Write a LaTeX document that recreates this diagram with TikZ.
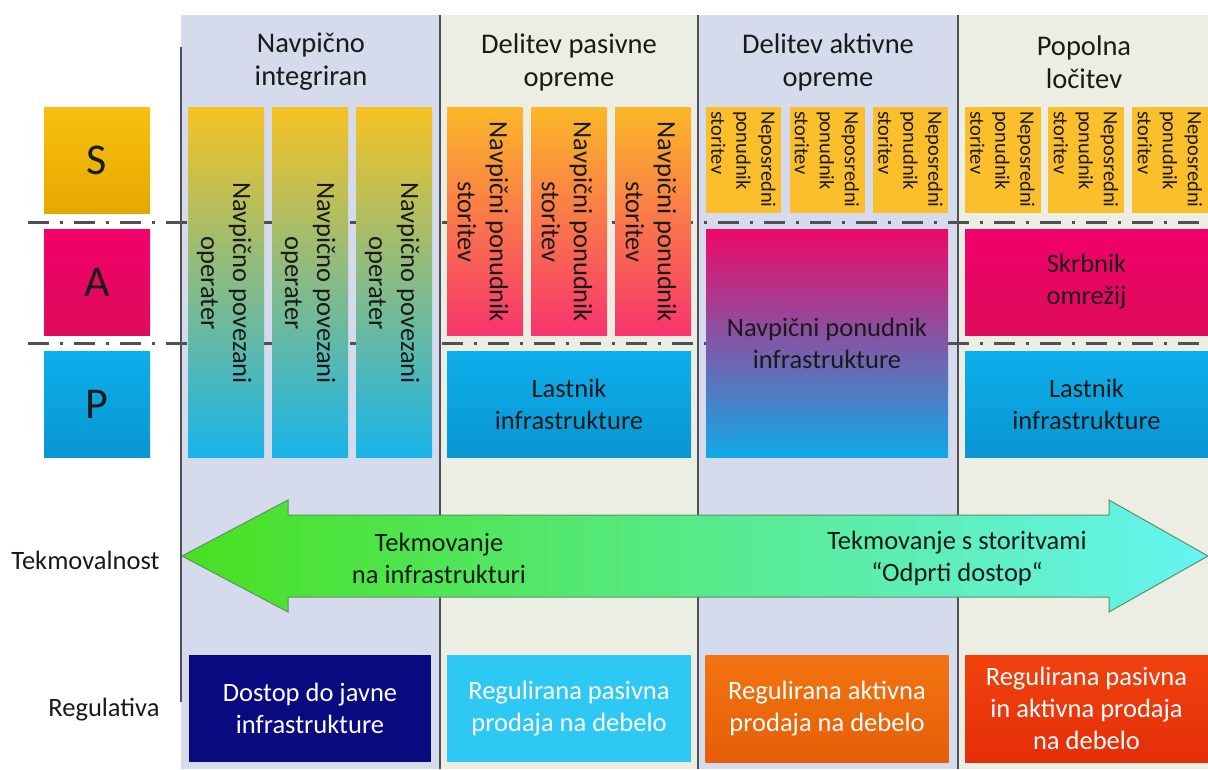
\documentclass[tikz,border=0pt]{standalone}
\usepackage{fontspec}
\setmainfont{Carlito}
\definecolor{bgA}{HTML}{D5DAEC}
\definecolor{bgB}{HTML}{ECEEE3}
\definecolor{vline}{HTML}{4F4F55}
\definecolor{txt}{HTML}{1A1A1A}
\definecolor{sTop}{HTML}{F8C010}
\definecolor{sBot}{HTML}{E6A800}
\definecolor{aTop}{HTML}{F2006A}
\definecolor{aBot}{HTML}{DE0C5C}
\definecolor{pTop}{HTML}{0EAEEC}
\definecolor{pBot}{HTML}{0896D2}
\definecolor{yel}{HTML}{FBBF2C}
\definecolor{nTop}{HTML}{F6C222}
\definecolor{nMid}{HTML}{96BE78}
\definecolor{nBot}{HTML}{18B4EA}
\definecolor{oTop}{HTML}{FBB828}
\definecolor{oMid}{HTML}{FB7A44}
\definecolor{oBot}{HTML}{F8346E}
\definecolor{iTop}{HTML}{EE0866}
\definecolor{iMid}{HTML}{8C4CA4}
\definecolor{iBot}{HTML}{10AAE8}
\definecolor{arrL}{HTML}{48E020}
\definecolor{arrR}{HTML}{66F4F2}
\definecolor{arrE}{HTML}{5F8F66}
\definecolor{rNavy}{HTML}{0A0A80}
\definecolor{rCyan}{HTML}{2EC8F4}
\definecolor{rOrTop}{HTML}{F27410}
\definecolor{rOrBot}{HTML}{E65E08}
\definecolor{rRdTop}{HTML}{F2420E}
\definecolor{rRdBot}{HTML}{E42E08}
\tikzset{
  bodyf/.style={font=\fontsize{26.5}{32}\selectfont, text=txt},
  headf/.style={font=\fontsize{28.5}{33}\selectfont, text=txt},
  smallf/.style={font=\fontsize{20.5}{25}\selectfont, text=txt},
  letterf/.style={font=\fontsize{44}{50}\selectfont, text=txt},
  box/.style={inner sep=0pt, outer sep=0pt, draw=none},
  vsep/.style={draw=vline, line width=2.6pt},
  layerline/.style={draw=vline, line width=3pt, dash pattern=on 21pt off 11pt on 3pt off 11pt},
  rottext/.style={bodyf, rotate=-90, align=center, inner sep=0pt},
  smalltext/.style={smallf, rotate=-90, align=left, inner sep=0pt, anchor=west},
  regbox/.style={box, minimum height=107pt, text=white, align=center, font=\fontsize{26.5}{32}\selectfont}
}
\begin{document}
\begin{tikzpicture}[x=1pt,y=-1pt]
\useasboundingbox (0,0) rectangle (1208,769);
\fill[white] (0,0) rectangle (1208,769);
% column backgrounds
\fill[bgA] (181,15) rectangle (440,769);
\fill[bgB] (440,15) rectangle (698,769);
\fill[bgA] (698,15) rectangle (958,769);
\fill[bgB] (958,15) rectangle (1208,769);
% vertical separators
\coordinate (v0t) at (181,47); \coordinate (v0b) at (181,702);
\coordinate (v1t) at (440,15); \coordinate (v1b) at (440,769);
\coordinate (v2t) at (698,15); \coordinate (v2b) at (698,769);
\coordinate (v3t) at (958,15); \coordinate (v3b) at (958,769);
\draw[vsep] (v0t) -- (v0b);
\draw[vsep] (v1t) -- (v1b);
\draw[vsep] (v2t) -- (v2b);
\draw[vsep] (v3t) -- (v3b);
% layer separators
\coordinate (l1a) at (28,222); \coordinate (l1b) at (1208,222);
\coordinate (l2a) at (28,343); \coordinate (l2b) at (1208,343);
\draw[layerline] (l1a) -- (l1b);
\draw[layerline] (l2a) -- (l2b);
% headers
\node[headf, align=center] (h1) at (311,62) {Navpično\\integriran};
\node[headf, align=center] (h2) at (569,62) {Delitev pasivne\\opreme};
\node[headf, align=center] (h3) at (828,62) {Delitev aktivne\\opreme};
\node[headf, align=center] (h4) at (1084,62) {Popolna\\ločitev};
% S A P
\node[box, minimum width=106pt, minimum height=106pt, top color=sTop, bottom color=sBot] (S) at (97,160) {};
\node[box, minimum width=106pt, minimum height=106pt, top color=aTop, bottom color=aBot] (A) at (97,282) {};
\node[box, minimum width=106pt, minimum height=106pt, top color=pTop, bottom color=pBot] (P) at (97,404) {};
\node[letterf] (Sl) at (S) {S};
\node[letterf] (Al) at (A) {A};
\node[letterf] (Pl) at (P) {P};
% column 1 bars
\foreach \x [count=\i] in {226,310,394}{
  \node[box, minimum width=76pt, minimum height=350pt, top color=nTop, middle color=nMid, bottom color=nBot] (n\i) at (\x,282) {};
  \node[rottext] (nt\i) at (\x-2,283) {Navpično povezani\\operater};
}
% column 2 bars
\foreach \x [count=\i] in {485,569,653}{
  \node[box, minimum width=76pt, minimum height=228pt, top color=oTop, middle color=oMid, bottom color=oBot] (o\i) at (\x,221) {};
  \node[rottext] (ot\i) at (\x-2,222) {Navpični ponudnik\\storitev};
}
\node[box, minimum width=244pt, minimum height=106pt, top color=pTop, bottom color=pBot] (L1) at (569,404) {};
\node[bodyf, align=center] (L1t) at (L1) {Lastnik\\infrastrukture};
% column 3
\foreach \x [count=\i] in {743.5,827,910.5}{
  \node[box, minimum width=75pt, minimum height=106pt, fill=yel] (y\i) at (\x,160) {};
  \node[smalltext] (yt\i) at (\x,111) {Neposredni\\ponudnik\\storitev};
}
\node[box, minimum width=242pt, minimum height=228pt, top color=iTop, middle color=iMid, bottom color=iBot] (I) at (827,343) {};
\node[bodyf, align=center] (It) at (I) {Navpični ponudnik\\infrastrukture};
% column 4
\foreach \x [count=\i] in {1002.5,1086,1170}{
  \node[box, minimum width=76pt, minimum height=106pt, fill=yel] (z\i) at (\x,160) {};
  \node[smalltext] (zt\i) at (\x,111) {Neposredni\\ponudnik\\storitev};
}
\node[box, minimum width=243pt, minimum height=106pt, top color=aTop, bottom color=aBot] (K) at (1086.5,282) {};
\node[bodyf, align=center] (Kt) at (K) {Skrbnik\\omrežij};
\node[box, minimum width=243pt, minimum height=106pt, top color=pTop, bottom color=pBot] (L2) at (1086.5,404) {};
\node[bodyf, align=center] (L2t) at (L2) {Lastnik\\infrastrukture};
% arrow
\shade[left color=arrL, right color=arrR, draw=arrE, line width=1pt]
  (182,556) -- (288,500) -- (288,515) -- (1109,515) -- (1109,500) -- (1208,556)
  -- (1109,612) -- (1109,597) -- (288,597) -- (288,612) -- cycle;
\node[bodyf, align=center] (t1) at (439,558) {Tekmovanje\\na infrastrukturi};
\node[bodyf, align=center] (t2) at (957,558) {Tekmovanje s storitvami\\“Odprti dostop“};
% left labels
\node[bodyf, anchor=east] (lt) at (163,560) {Tekmovalnost};
\node[bodyf, anchor=east] (lr) at (163,710) {Regulativa};
% regulation boxes
\node[regbox, minimum width=242pt, fill=rNavy] (r1) at (310,708.5) {Dostop do javne\\infrastrukture};
\node[regbox, minimum width=244pt, fill=rCyan] (r2) at (569,708.5) {Regulirana pasivna\\prodaja na debelo};
\node[regbox, minimum width=243pt, top color=rOrTop, bottom color=rOrBot] (r3) at (827,708.5) {Regulirana aktivna\\prodaja na debelo};
\node[regbox, minimum width=243pt, top color=rRdTop, bottom color=rRdBot] (r4) at (1086.5,708.5) {Regulirana pasivna\\in aktivna prodaja\\na debelo};
\end{tikzpicture}
\end{document}
